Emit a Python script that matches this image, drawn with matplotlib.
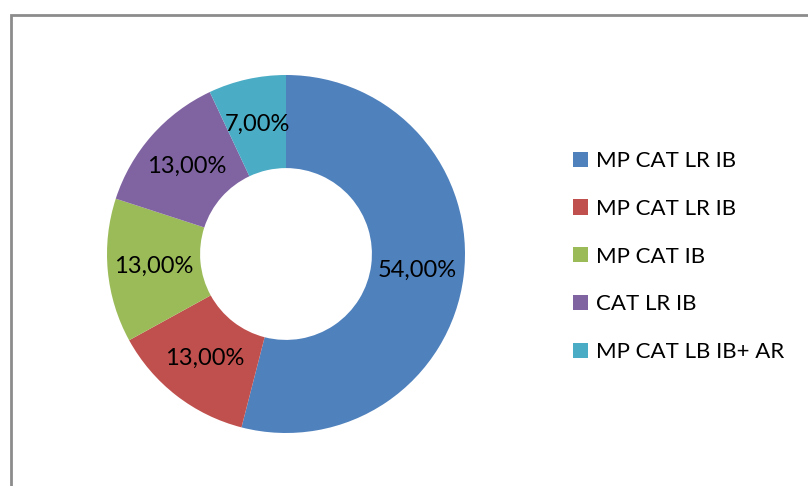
import matplotlib.pyplot as plt
from matplotlib.patches import Rectangle

labels = ["MP CAT LR IB", "MP CAT LR IB", "MP CAT IB", "CAT LR IB", "MP CAT LB IB+ AR"]
values = [54, 13, 13, 13, 7]
colors = ["#4F81BD", "#C0504D", "#9BBB59", "#8064A2", "#4BACC6"]

plt.rcParams["font.family"] = ["Lato", "DejaVu Sans"]

fig = plt.figure(figsize=(8.08, 4.86), dpi=100)
ax = fig.add_axes([107 / 808, 53 / 486, 358 / 808, 358 / 486])

wedges, _texts, autotexts = ax.pie(
    values,
    colors=colors,
    startangle=90,
    counterclock=False,
    radius=1,
    wedgeprops=dict(width=0.52, linewidth=0),
    autopct=lambda p: f"{p:.2f}%".replace(".", ","),
    pctdistance=0.74,
    textprops=dict(fontsize=17, color="black"),
)
ax.set_xlim(-1, 1)
ax.set_ylim(-1, 1)
ax.set_aspect("equal")

fig.legend(
    wedges,
    labels,
    loc="upper left",
    bbox_to_anchor=(553 / 808, 1 - 131 / 486),
    frameon=False,
    fontsize=16,
    handlelength=0.68,
    handleheight=0.68,
    handletextpad=0.35,
    labelspacing=1.25,
)

# grey chart-area border, running off the right and bottom edges
fig.add_artist(
    Rectangle(
        (11 / 808, -0.1),
        1.2,
        1.1 - 15 / 486,
        transform=fig.transFigure,
        fill=False,
        edgecolor="#8c8c8c",
        linewidth=2,
    )
)

fig.savefig("out.png", dpi=100)
